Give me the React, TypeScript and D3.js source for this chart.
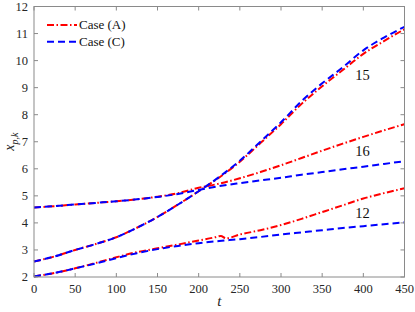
import React, { useEffect, useRef } from 'react';
import * as d3 from 'd3';

// sample times (t) shared by most series
const tSteps = [0, 25, 50, 75, 100, 125, 150, 175, 200, 225, 250, 275, 300, 325, 350, 375, 400, 425, 450];
// case (A) curve 12 has a small kink near t=230
const tStepsA12 = [0, 25, 50, 75, 100, 125, 150, 175, 200, 220, 227, 233, 250, 275, 300, 325, 350, 375, 400, 425, 450];

const caseA15 = [2.57, 2.76, 3.0, 3.22, 3.47, 3.82, 4.22, 4.68, 5.17, 5.68, 6.26, 6.95, 7.65, 8.4, 9.05, 9.65, 10.25, 10.72, 11.16];
const caseC15 = [2.57, 2.76, 3.0, 3.22, 3.47, 3.82, 4.22, 4.68, 5.17, 5.7, 6.3, 7.0, 7.72, 8.5, 9.16, 9.75, 10.38, 10.85, 11.25];
const caseA16 = [4.57, 4.62, 4.68, 4.74, 4.8, 4.87, 4.97, 5.1, 5.3, 5.45, 5.65, 5.88, 6.13, 6.4, 6.67, 6.93, 7.18, 7.42, 7.65];
const caseC16 = [4.57, 4.62, 4.68, 4.74, 4.8, 4.87, 4.96, 5.07, 5.22, 5.36, 5.47, 5.57, 5.67, 5.78, 5.88, 5.98, 6.08, 6.18, 6.28];
const caseA12 = [2.02, 2.15, 2.32, 2.52, 2.73, 2.92, 3.06, 3.2, 3.35, 3.47, 3.52, 3.43, 3.57, 3.73, 3.92, 4.15, 4.4, 4.65, 4.9, 5.1, 5.28];
const caseC12 = [2.02, 2.15, 2.32, 2.5, 2.7, 2.88, 3.03, 3.15, 3.25, 3.33, 3.4, 3.48, 3.57, 3.65, 3.73, 3.81, 3.88, 3.95, 4.02];

const xTicks = [0, 50, 100, 150, 200, 250, 300, 350, 400, 450];
const yTicks = [2, 3, 4, 5, 6, 7, 8, 9, 10, 11, 12];

const curveLabels = [
  { text: '15', t: 399, v: 9.45 },
  { text: '16', t: 399, v: 6.65 },
  { text: '12', t: 399, v: 4.35 },
];

const legendItems = ['Case (A)', 'Case (C)'];

const W = 415;
const H = 312;
const margin = { left: 34, right: 10.5, top: 6.5, bottom: 35 };
const font = "'Liberation Serif', 'Times New Roman', serif";
const red = '#ff0000';
const blue = '#0000ff';
const redDash = '7,2.5,1.5,2.5';
const blueDash = '7,4';

export default function App() {
  const ref = useRef<SVGSVGElement>(null);

  useEffect(() => {
    const svg = d3.select(ref.current);
    svg.selectAll('*').remove();

    const x = d3.scaleLinear().domain([0, 450]).range([margin.left, W - margin.right]);
    const y = d3.scaleLinear().domain([2, 12]).range([H - margin.bottom, margin.top]);

    const plot = svg.append('g');

    const line = d3.line<[number, number]>()
      .x(d => x(d[0]))
      .y(d => y(d[1]))
      .curve(d3.curveMonotoneX);

    const series = [
      { ts: tSteps, vs: caseA15, color: red, dash: redDash },
      { ts: tSteps, vs: caseA16, color: red, dash: redDash },
      { ts: tStepsA12, vs: caseA12, color: red, dash: redDash },
      { ts: tSteps, vs: caseC15, color: blue, dash: blueDash },
      { ts: tSteps, vs: caseC16, color: blue, dash: blueDash },
      { ts: tSteps, vs: caseC12, color: blue, dash: blueDash },
    ];

    series.forEach(s => {
      plot.append('path')
        .attr('d', line(s.ts.map((t, i) => [t, s.vs[i]] as [number, number])))
        .attr('fill', 'none')
        .attr('stroke', s.color)
        .attr('stroke-width', 2)
        .attr('stroke-dasharray', s.dash);
    });

    // axes box
    const axisColor = '#8a8a8a';
    const x0 = x(0), x1 = x(450), y0 = y(2), y1 = y(12);
    svg.append('rect')
      .attr('x', x0).attr('y', y1)
      .attr('width', x1 - x0).attr('height', y0 - y1)
      .attr('fill', 'none').attr('stroke', axisColor).attr('stroke-width', 1);

    const tickLen = 4;
    xTicks.forEach(t => {
      svg.append('line').attr('x1', x(t)).attr('x2', x(t)).attr('y1', y0).attr('y2', y0 - tickLen)
        .attr('stroke', axisColor);
      svg.append('line').attr('x1', x(t)).attr('x2', x(t)).attr('y1', y1).attr('y2', y1 + tickLen)
        .attr('stroke', axisColor);
      svg.append('text')
        .attr('x', x(t)).attr('y', y0 + 16)
        .attr('text-anchor', 'middle')
        .style('font-family', font).style('font-size', '12.5px').attr('fill', '#262626')
        .text(t);
    });
    yTicks.forEach(v => {
      svg.append('line').attr('x1', x0).attr('x2', x0 + tickLen).attr('y1', y(v)).attr('y2', y(v))
        .attr('stroke', axisColor);
      svg.append('line').attr('x1', x1).attr('x2', x1 - tickLen).attr('y1', y(v)).attr('y2', y(v))
        .attr('stroke', axisColor);
      svg.append('text')
        .attr('x', x0 - 6).attr('y', y(v) + 4.3)
        .attr('text-anchor', 'end')
        .style('font-family', font).style('font-size', '12.5px').attr('fill', '#262626')
        .text(v);
    });

    // axis labels
    svg.append('text')
      .attr('x', (x0 + x1) / 2).attr('y', 306)
      .attr('text-anchor', 'middle')
      .style('font-family', font).style('font-size', '15px').style('font-style', 'italic').attr('fill', '#262626')
      .text('t');

    const yl = svg.append('text')
      .attr('transform', `translate(14,${(y0 + y1) / 2}) rotate(-90)`)
      .attr('text-anchor', 'middle')
      .style('font-family', font).style('font-size', '14px').style('font-style', 'italic').attr('fill', '#262626');
    yl.append('tspan').text('x');
    yl.append('tspan').attr('dy', 3.5).style('font-size', '10px').text('p,k');

    // curve labels
    curveLabels.forEach(c => {
      svg.append('text')
        .attr('x', x(c.t)).attr('y', y(c.v))
        .attr('text-anchor', 'middle')
        .attr('dominant-baseline', 'central')
        .style('font-family', font).style('font-size', '14.5px').attr('fill', '#111')
        .text(c.text);
    });

    // legend
    const legend = svg.append('g');
    legendItems.forEach((name, i) => {
      const ly = 25 + i * 16.7;
      legend.append('line')
        .attr('x1', 47).attr('x2', 77).attr('y1', ly).attr('y2', ly)
        .attr('stroke', i === 0 ? red : blue).attr('stroke-width', 2)
        .attr('stroke-dasharray', i === 0 ? redDash : blueDash);
      legend.append('text')
        .attr('x', 79).attr('y', ly + 4.3)
        .style('font-family', font).style('font-size', '13px').attr('fill', '#111')
        .text(name);
    });
  }, []);

  return (
    <svg ref={ref} width={W} height={H} style={{ position: 'absolute', left: 0, top: 0, background: '#fff' }} />
  );
}
